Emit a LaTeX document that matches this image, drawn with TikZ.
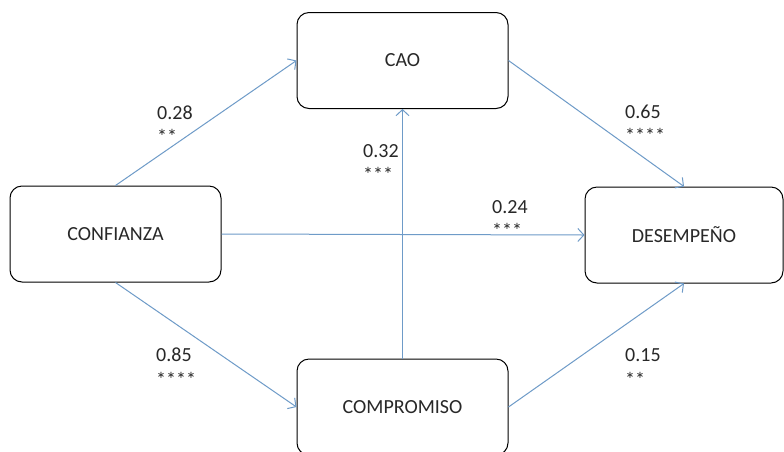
\documentclass[tikz,border=0pt]{standalone}
\usepackage{fontspec}
\setmainfont{Carlito}
\usetikzlibrary{arrows.meta}
\definecolor{arrowblue}{RGB}{110,155,200}
\definecolor{txt}{RGB}{40,40,40}
\begin{document}
\begin{tikzpicture}[x=1pt,y=-1pt,
  box/.style={draw=black, line width=1pt, rounded corners=12pt, minimum width=211pt, minimum height=96pt, inner sep=0pt, font=\fontsize{20}{24}\selectfont, text=txt, fill=white},
  link/.style={draw=arrowblue, line width=1pt, -{Straight Barb[length=6pt,width=13pt]}},
  coef/.style={anchor=base west, inner sep=0pt, font=\fontsize{20}{24}\selectfont, text=txt}]
\useasboundingbox (0,0) rectangle (784,451);
\clip (0,0) rectangle (784,451);
\fill[white] (0,0) rectangle (784,451);
\node[box] (conf) at (115.5,234) {CONFIANZA};
\node[box] (cao) at (402.5,60.5) {CAO};
\node[box, minimum width=198pt] (des) at (684,235) {DESEMPEÑO};
\node[box] (comp) at (402.5,407) {COMPROMISO};
\draw[link] (conf.north) -- (cao.west);
\draw[link] (cao.east) -- (des.north);
\draw[link] (conf.east) -- (des.west);
\draw[link] (comp.north) -- (cao.south);
\draw[link] (conf.south) -- (comp.west);
\draw[link] (comp.east) -- (des.south);
\node[coef] (c1) at (157,119.3) {0.28};
\node[coef] (s1) at (157,143) {**};
\node[coef] (c2) at (625,118.5) {0.65};
\node[coef] (s2) at (625,142) {****};
\node[coef] (c3) at (363,157.3) {0.32};
\node[coef] (s3) at (363,181) {***};
\node[coef] (c4) at (492,213.3) {0.24};
\node[coef] (s4) at (492,237) {***};
\node[coef] (c5) at (156,361.3) {0.85};
\node[coef] (s5) at (156,386) {****};
\node[coef] (c6) at (625,361.3) {0.15};
\node[coef] (s6) at (625,386) {**};
\end{tikzpicture}
\end{document}
